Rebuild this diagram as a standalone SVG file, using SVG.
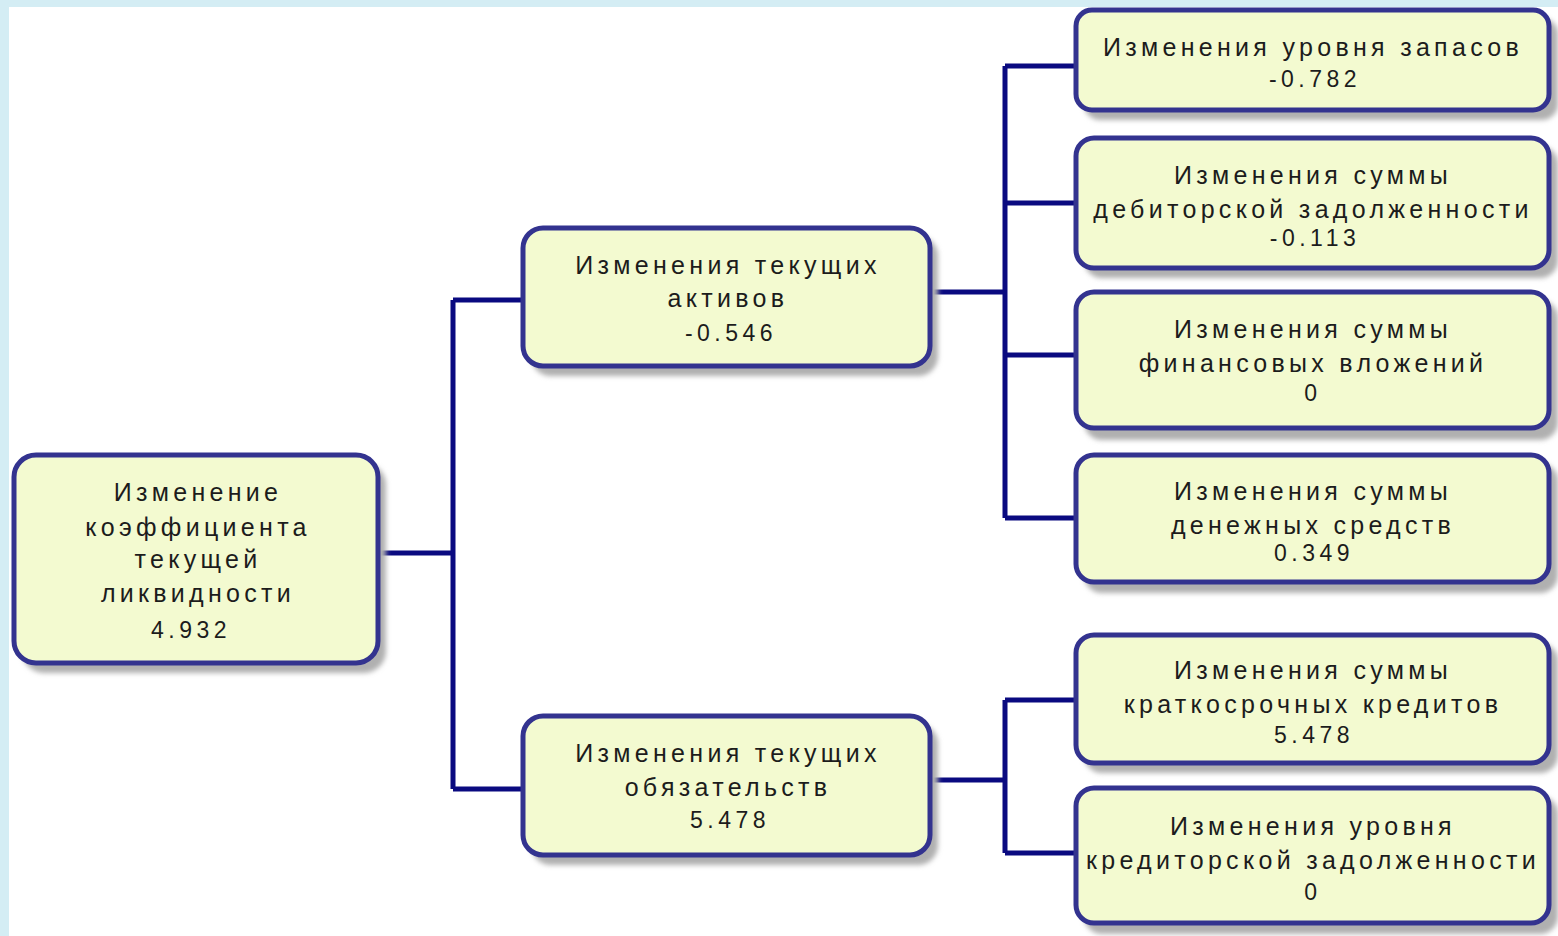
<svg xmlns="http://www.w3.org/2000/svg" width="1558" height="936" viewBox="0 0 1558 936">
<defs>
<filter id="sh" x="-10%" y="-10%" width="130%" height="140%"><feGaussianBlur stdDeviation="2.5"/></filter>
<style>
.box{fill:#f3fad0;stroke:#33338f;stroke-width:5}
.shd{fill:#b0b0b0;filter:url(#sh)}
.t{font-family:"Liberation Sans",Arial,sans-serif;font-size:25px;letter-spacing:4.3px;fill:#1c1c1c;text-anchor:middle}
.n{font-family:"Liberation Sans",Arial,sans-serif;font-size:23px;letter-spacing:4.5px;fill:#1c1c1c;text-anchor:middle}
.c{fill:none;stroke:#0a0a80;stroke-width:5}
</style>
</defs>
<rect x="0" y="0" width="1558" height="936" fill="#ffffff"/>
<rect x="0" y="0" width="1558" height="7" fill="#d4edf4"/>
<rect x="0" y="0" width="9" height="936" fill="#d4edf4"/>

<g id="connectors">
<path class="c" d="M378 553 H453 M453 300 V789 M453 300 H523 M453 789 H523"/>
<path class="c" d="M930 292 H1005 M1005 66 V518 M1005 66 H1076 M1005 203 H1076 M1005 355 H1076 M1005 518 H1076"/>
<path class="c" d="M930 780 H1005 M1005 700 V853 M1005 700 H1076 M1005 853 H1076"/>
</g>

<g id="root">
<rect class="shd" x="22" y="463" width="364" height="210" rx="22"/>
<rect class="box" x="14" y="455" width="364" height="208" rx="22"/>
<text class="t" x="198" y="501">Изменение</text>
<text class="t" x="198" y="536">коэффициента</text>
<text class="t" x="198" y="568">текущей</text>
<text class="t" x="198" y="602">ликвидности</text>
<text class="n" x="191" y="638">4.932</text>
</g>

<g id="assets">
<rect class="shd" x="531" y="236" width="407" height="140" rx="20"/>
<rect class="box" x="523" y="228" width="407" height="138" rx="20"/>
<text class="t" x="728" y="274">Изменения текущих</text>
<text class="t" x="728" y="307">активов</text>
<text class="n" x="731" y="341">-0.546</text>
</g>

<g id="liabilities">
<rect class="shd" x="531" y="724" width="407" height="141" rx="20"/>
<rect class="box" x="523" y="716" width="407" height="139" rx="20"/>
<text class="t" x="728" y="762">Изменения текущих</text>
<text class="t" x="728" y="796">обязательств</text>
<text class="n" x="730" y="828">5.478</text>
</g>

<g id="inventory">
<rect class="shd" x="1084" y="18" width="474" height="102" rx="16"/>
<rect class="box" x="1076" y="10" width="473" height="100" rx="16"/>
<text class="t" x="1313" y="56">Изменения уровня запасов</text>
<text class="n" x="1315" y="87">-0.782</text>
</g>

<g id="receivables">
<rect class="shd" x="1084" y="146" width="474" height="132" rx="18"/>
<rect class="box" x="1076" y="138" width="473" height="130" rx="18"/>
<text class="t" x="1313" y="184">Изменения суммы</text>
<text class="t" x="1313" y="218">дебиторской задолженности</text>
<text class="n" x="1315" y="246">-0.113</text>
</g>

<g id="investments">
<rect class="shd" x="1084" y="300" width="474" height="140" rx="18"/>
<rect class="box" x="1076" y="292" width="473" height="136" rx="18"/>
<text class="t" x="1313" y="338">Изменения суммы</text>
<text class="t" x="1313" y="372">финансовых вложений</text>
<text class="n" x="1313" y="401">0</text>
</g>

<g id="cash">
<rect class="shd" x="1084" y="463" width="474" height="130" rx="18"/>
<rect class="box" x="1076" y="455" width="473" height="127" rx="18"/>
<text class="t" x="1313" y="500">Изменения суммы</text>
<text class="t" x="1313" y="534">денежных средств</text>
<text class="n" x="1314" y="561">0.349</text>
</g>

<g id="loans">
<rect class="shd" x="1084" y="643" width="474" height="130" rx="18"/>
<rect class="box" x="1076" y="635" width="473" height="128" rx="18"/>
<text class="t" x="1313" y="679">Изменения суммы</text>
<text class="t" x="1313" y="713">краткосрочных кредитов</text>
<text class="n" x="1314" y="743">5.478</text>
</g>

<g id="payables">
<rect class="shd" x="1084" y="796" width="474" height="138" rx="18"/>
<rect class="box" x="1076" y="788" width="473" height="135" rx="18"/>
<text class="t" x="1313" y="835">Изменения уровня</text>
<text class="t" x="1313" y="869">кредиторской задолженности</text>
<text class="n" x="1313" y="900">0</text>
</g>
</svg>
